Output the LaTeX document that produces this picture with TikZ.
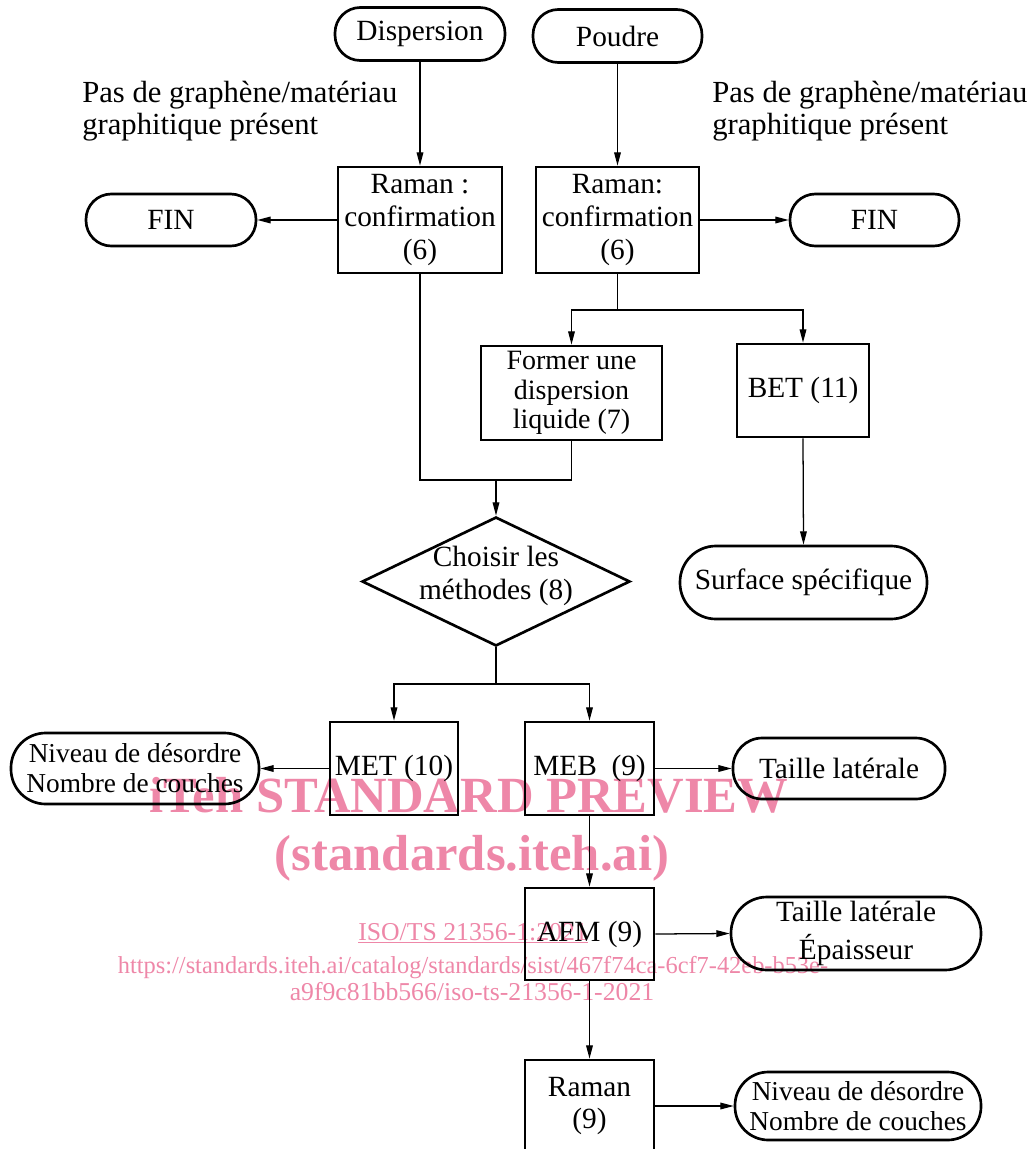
\documentclass[tikz,border=0pt]{standalone}
\usepackage{fontspec}
\setmainfont{Liberation Serif}
\usetikzlibrary{shapes.geometric,arrows.meta}
\definecolor{wmcol}{RGB}{238,135,168}
\begin{document}
\begin{tikzpicture}[x=0.75pt,y=-0.75pt,
  box/.style={draw,line width=2pt,inner sep=0pt,align=center,font=\fontsize{22}{25}\selectfont},
  sz/.style 2 args={minimum width=#1,minimum height=#2},
  term/.style={box,rounded corners=#1},
  conn/.style={line width=0.95pt,-{Triangle[length=10pt,width=5pt]}},
  plain/.style={line width=0.95pt},
  lbl/.style={inner sep=0pt,align=left,anchor=west,font=\fontsize{23}{24}\selectfont},
  wmbig/.style={inner sep=0pt,anchor=base,text=wmcol,font=\bfseries\fontsize{38}{40}\selectfont},
  wmsmall/.style={inner sep=0pt,anchor=base,text=wmcol,font=\fontsize{19.3}{21}\selectfont},
]
\useasboundingbox (0,0) rectangle (1033,1149);

% watermark (behind the diagram)
\node[wmbig] (wm1) at (469,812) {iTeh STANDARD PREVIEW};
\node[wmbig] (wm2) at (472,870) {(standards.iteh.ai)};
\node[wmsmall] (wm3) at (473,940) {\underline{ISO/TS 21356-1:2021}};
\node[wmsmall,font=\fontsize{18.3}{21}\selectfont] (wm4) at (473,973) {https://standards.iteh.ai/catalog/standards/sist/467f74ca-6cf7-42eb-b53e-};
\node[wmsmall] (wm5) at (472,1000) {a9f9c81bb566/iso-ts-21356-1-2021};

% top terminals
\node[term=19pt,sz={127.5pt}{39.75pt}] (disp) at (420,34) {Dispersion};
\node[term=19pt,sz={126.75pt}{39.75pt}] (poud) at (617.5,36) {Poudre};

% labels
\node[lbl] (lab1) at (82,111) {Pas de graphène/matériau\\graphitique présent};
\node[lbl] (lab2) at (712,111) {Pas de graphène/matériau\\graphitique présent};

% Raman confirmation
\node[box,sz={123pt}{79.5pt}] (ram1) at (420,220) {Raman :\\confirmation\\(6)};
\node[box,sz={122.25pt}{79.5pt}] (ram2) at (617.5,220) {Raman:\\confirmation\\(6)};

% FIN
\node[term=19pt,sz={127.5pt}{39pt}] (fin1) at (171,220) {FIN};
\node[term=19pt,sz={126.75pt}{39pt}] (fin2) at (874.5,220) {FIN};

% Former / BET
\node[box,sz={135.75pt}{70.5pt},font=\fontsize{21}{22}\selectfont] (former) at (571.5,393) {Former une\\dispersion\\liquide (7)};
\node[box,sz={99pt}{69.75pt}] (bet) at (803,390.5) {BET (11)};
\node[term=27pt,sz={185.25pt}{54.75pt}] (surf) at (803.5,582.5) {Surface spécifique};

% decision
\node[diamond,draw,line width=2pt,inner sep=0pt,minimum width=201pt,minimum height=96.75pt] (choose) at (496,581.5) {};
\node[inner sep=0pt,align=center,font=\fontsize{22}{25}\selectfont] (choosetxt) at (496,576) {Choisir les\\méthodes (8)};

% methods
\node[box,sz={96pt}{69.75pt}] (met) at (394,768.5) {MET (10)};
\node[box,sz={96.75pt}{69.75pt}] (meb) at (589.5,768.5) {MEB\ \ (9)};
\node[term=26pt,sz={186pt}{53.25pt},font=\fontsize{20.5}{22.5}\selectfont] (niv1) at (135,768.5) {Niveau de désordre\\Nombre de couches};
\node[term=22pt,sz={159pt}{45.75pt}] (taille) at (839,768.5) {Taille latérale};
\node[box,sz={96.75pt}{69pt}] (afm) at (589.5,934) {AFM (9)};
\node[term=27pt,sz={187.5pt}{54.75pt},font=\fontsize{22}{28}\selectfont] (tep) at (856,933.5) {Taille latérale\\Épaisseur};
\node[box,sz={96.75pt}{69pt},font=\fontsize{22}{24}\selectfont] (ram3) at (589.5,1106) {Raman\\(9)};
\node[term=25pt,sz={184.5pt}{51pt},font=\fontsize{20.5}{22.5}\selectfont] (niv2) at (858,1106) {Niveau de désordre\\Nombre de couches};

% junctions
\coordinate (j1) at (617.5,310);
\coordinate (j2) at (496,480);
\coordinate (j3) at (496,684);

% connectors
\draw[conn] (disp.south) -- (ram1.north);
\draw[conn] (poud.south) -- (ram2.north);
\draw[conn] (ram1.west) -- (fin1.east);
\draw[conn] (ram2.east) -- (fin2.west);
\draw[plain] (ram2.south) -- (j1);
\draw[conn] (j1) -| (former.north);
\draw[conn] (j1) -| (bet.north);
\draw[plain] (ram1.south) |- (j2);
\draw[plain] (former.south) |- (j2);
\draw[conn] (j2) -- (choose.north);
\draw[conn] (bet.south) -- (surf.north);
\draw[plain] (choose.south) -- (j3);
\draw[conn] (j3) -| (met.north);
\draw[conn] (j3) -| (meb.north);
\draw[conn] (met.west) -- (niv1.east);
\draw[conn] (meb.east) -- (taille.west);
\draw[conn] (meb.south) -- (afm.north);
\draw[conn] (afm.east) -- (tep.west);
\draw[conn] (afm.south) -- (ram3.north);
\draw[conn] (ram3.east) -- (niv2.west);
\end{tikzpicture}
\end{document}
